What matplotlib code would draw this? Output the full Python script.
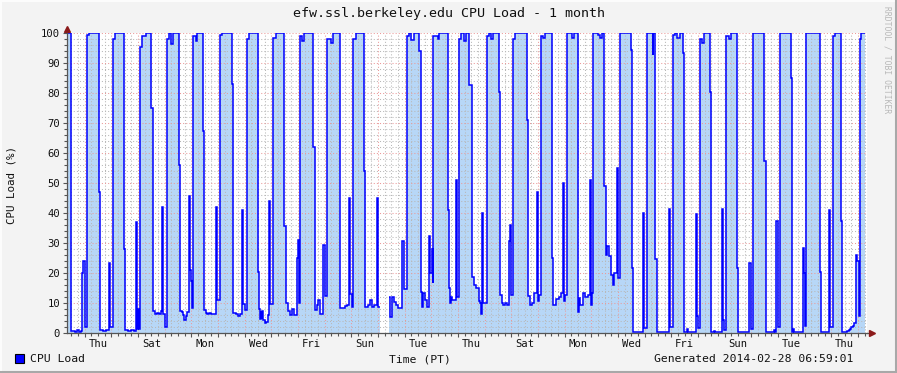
import datetime as dt
import numpy as np
import matplotlib
matplotlib.use("Agg")
import matplotlib.pyplot as plt
import matplotlib.dates as mdates
from matplotlib.lines import Line2D
from matplotlib.patches import Rectangle
from matplotlib.ticker import MultipleLocator, FuncFormatter, NullFormatter

# 30 day window shown by the graph
start = dt.datetime(2014, 1, 29, 8, 0)
end = start + dt.timedelta(days=30)

# step start (hours after start) and CPU load in %, one line per day cycle
hours = [
    0.0, 3.3, 3.9, 6.8, 9.0, 10.8, 12.6, 13.8, 14.7, 15.8,
    18.3, 19.5, 28.5, 29.4, 32.4, 35.1, 37.5, 38.4, 39.0,
    41.7, 42.9, 51.3, 51.9, 54.9, 57.6, 60.3, 62.1, 63.3, 64.2, 65.1,
    66.0, 67.2, 70.8, 75.9, 77.1, 79.2, 81.0, 82.8, 84.6, 85.8, 86.7, 87.8,
    90.0, 91.8, 93.9, 95.4, 100.8, 101.7, 103.1, 104.4, 105.6, 107.1, 108.3, 110.1, 110.7, 111.9, 112.5,
    113.7, 115.7, 117.0, 122.1, 123.3, 124.7, 126.0, 127.8, 129.6, 131.4, 134.4, 135.3,
    137.7, 139.5, 148.8, 149.7, 152.1, 153.9, 155.7, 157.8, 158.7, 160.2,
    161.8, 163.8, 172.2, 173.1, 173.7, 174.3, 174.9, 175.5, 176.4, 177.8, 179.1, 181.2, 182.1, 183.0,
    185.7, 188.1, 195.6, 197.4, 198.6, 200.7, 202.5, 204.3, 207.3, 208.2, 209.1,
    210.0, 211.8, 213.3, 221.7, 223.2, 225.0, 226.2, 227.7, 230.7, 232.5,
    234.0, 237.6, 239.4, 246.0, 250.2, 252.0, 254.1, 255.0, 256.5,
    257.7, 260.1, 267.3, 268.2, 270.9, 273.0, 274.5, 276.3, 278.7, 279.6, 281.3,
    290.0, 291.0, 292.8, 294.3, 296.1, 298.2, 301.8, 303.3,
    305.7, 307.8, 309.6, 312.3, 317.1, 318.6, 319.8, 320.7, 322.6, 324.3, 326.1, 327.0, 328.1, 329.0,
    329.7, 333.5, 334.8, 342.6, 343.5, 344.3, 345.6, 346.5, 350.4, 351.3,
    352.8, 354.6, 357.3, 358.7, 362.1, 364.5, 366.3, 368.1, 370.5, 371.7, 372.6, 373.5, 374.7,
    377.7, 379.4, 381.6, 383.4, 389.1, 390.0, 391.2, 392.7, 394.5, 396.0, 398.1, 399.0, 399.9,
    401.7, 403.2, 413.7, 414.6, 416.7, 418.1, 420.3, 422.7, 423.6, 424.8,
    426.3, 428.1, 430.2, 436.5, 437.7, 440.1, 442.8, 444.6, 446.1, 447.0, 448.2,
    449.7, 454.5, 456.6, 459.6, 460.8, 461.7, 464.1, 466.5, 468.9, 470.7, 471.6, 472.5,
    473.7, 477.9, 479.7, 481.5, 483.6, 485.1, 486.3, 487.8, 489.6, 491.1, 492.3, 494.7, 495.6,
    497.7, 507.6, 508.2, 509.1, 518.1, 519.0,
    522.3, 527.1, 527.8, 529.5, 530.7, 541.5, 542.4,
    545.4, 547.2, 549.0, 551.7, 554.4, 555.0, 558.0, 559.2, 566.1, 567.0, 567.9,
    570.0, 571.5, 573.3, 579.0, 579.9, 582.0, 583.2, 589.5, 590.4, 591.6,
    593.4, 596.1, 597.6, 603.0, 603.9, 613.5, 615.6,
    617.4, 627.6, 629.1, 636.0, 637.2, 638.4, 639.6,
    641.4, 651.6, 652.5, 653.4, 654.6, 662.1, 663.0, 664.2,
    665.4, 677.4, 678.6, 683.1, 686.1, 687.0,
    689.1, 691.2, 696.6, 697.5, 702.0, 703.8, 705.0, 705.9, 707.4, 708.6, 710.1, 711.0, 712.5,
    713.4, 714.9,
]
load = [
    100, 21.7, 0.8, 0.5, 1.0, 0.4, 0.8, 20, 24, 2,
    99.5, 100, 47, 1.0, 0.6, 0.9, 23.5, 17.5, 2,
    98, 100, 28, 1.0, 0.6, 1.1, 0.7, 37, 1.5, 8, 1.5,
    95.5, 99, 100, 75, 7.2, 6.3, 6.8, 6.3, 7.5, 42, 6.3, 2,
    98, 100, 96.5, 100, 56, 7.5, 7, 6, 4.5, 5.8, 7, 45.7, 21, 17.5, 8.5,
    99, 97.5, 100, 67.5, 7.7, 6.7, 6.3, 6.7, 6.3, 6.5, 42, 11,
    99.5, 100, 83, 6.7, 6.3, 5.8, 6.3, 41, 9.8, 7.8,
    98, 100, 20.5, 8, 4.7, 7.3, 5, 7.5, 4.5, 3.4, 3.8, 6, 44, 9.7,
    98.5, 100, 35.7, 10, 7.3, 6, 8, 6, 25, 31, 10,
    99, 97.3, 100, 62, 7.7, 9.4, 11, 6.5, 29.5, 12.5,
    98, 96.7, 100, 8.2, 8.9, 9.4, 45, 12.9, 8.6,
    98, 100, 54, 8.6, 9.5, 11, 8.6, 9.2, 45, 8.6, np.nan,
    11.9, 5.2, 11.9, 10.5, 9.4, 8.3, 30.8, 14.8,
    99, 100, 97.6, 100, 93.9, 13.8, 8.7, 13.2, 11, 8.7, 32.5, 20, 28, 16.6,
    99, 98, 100, 41, 14.9, 9.9, 12, 11, 51, 12,
    98, 100, 97.2, 100, 82.8, 18.8, 16.1, 15, 10.7, 9.9, 6.4, 40, 9.9,
    99, 100, 98, 100, 80.5, 12.8, 10, 9.4, 10, 9.4, 30.6, 36, 12.8,
    98, 100, 71, 12.2, 9.4, 10, 13.3, 47, 10.6, 12.8,
    99, 98.5, 100, 25, 9.4, 11.3, 12, 13.3, 50, 10.6, 12.8,
    100, 98.3, 100, 7.1, 11.7, 9.4, 13.3, 11.9, 12.8, 51, 9.4, 13.3,
    100, 99.3, 98.5, 100, 48.9, 26, 28.9, 25.6, 19.5, 16.1, 20, 55, 18.3,
    100, 94.4, 21.7, 0.3, 40, 1.6,
    100, 92.6, 100, 24.8, 0.3, 41.3, 2,
    99.5, 100, 98.5, 100, 93.3, 0.3, 1.5, 0.3, 39.7, 5.6, 1.6,
    98, 96.7, 100, 80.2, 0.3, 0.8, 0.3, 41.3, 4.5, 1.1,
    99, 98, 100, 21.7, 0.3, 23.4, 1.4,
    100, 57.2, 0.3, 1.0, 0.3, 37.5, 2,
    100, 85, 0.3, 1.3, 0.3, 28.3, 20, 2.3,
    100, 20.2, 0.3, 0.5, 41, 2,
    99, 100, 37.5, 0.3, 0.8, 1.1, 1.4, 2, 2.3, 3.4, 26, 23.9, 5.6,
    98, 100,
]
last_hour = 718.5

title = "efw.ssl.berkeley.edu CPU Load - 1 month"
generated = "Generated 2014-02-28 06:59:01"

W, H = 897, 373
plt.rcParams["font.family"] = "DejaVu Sans Mono"

t0 = mdates.date2num(start)
edges = t0 + np.array(hours + [last_hour]) / 24.0
vals = np.array(load, dtype=float)

fig = plt.figure(figsize=(W / 100, H / 100), dpi=100, facecolor="#f3f3f3")
ax = fig.add_axes([67 / W, 1 - 333 / H, 800 / W, 300 / H])
ax.set_facecolor("white")

ax.stairs(vals, edges, baseline=0, fill=True, color="#b7d7f7", lw=0, zorder=1)
ax.stairs(vals, edges, baseline=None, color="#0000ff", lw=1.1, zorder=3)

ax.set_xlim(t0, mdates.date2num(end))
ax.set_ylim(0, 100)

# grid: pink dotted majors, grey dotted minors, drawn over the area
ax.set_axisbelow(False)
dots = (0, (1, 2))
ax.xaxis.set_major_locator(mdates.DayLocator())
ax.xaxis.set_minor_locator(mdates.HourLocator(byhour=[6, 12, 18]))
ax.xaxis.set_major_formatter(NullFormatter())
label_ref = dt.date(2014, 1, 30)


def day_label(x, pos):
    d = mdates.num2date(x + 1e-6)
    if d.hour == 12 and (d.date() - label_ref).days % 2 == 0:
        return d.strftime("%a")
    return ""


ax.xaxis.set_minor_formatter(FuncFormatter(day_label))
ax.yaxis.set_major_locator(MultipleLocator(10))
ax.yaxis.set_minor_locator(MultipleLocator(2))
ax.grid(which="major", color="#eb9a9a", ls=dots, lw=0.75)
ax.grid(which="minor", color="#b8b8b8", ls=dots, lw=0.75)

ax.tick_params(which="both", direction="out", color="#555555", width=0.8,
               labelsize=7.6, labelcolor="#111111")
ax.tick_params(axis="x", which="major", length=3)
ax.tick_params(axis="x", which="minor", length=2, pad=2)
ax.tick_params(axis="y", which="major", length=3, pad=2)
ax.tick_params(axis="y", which="minor", length=2)

for s in ["top", "right"]:
    ax.spines[s].set_visible(False)
for s in ["left", "bottom"]:
    ax.spines[s].set_color("#555555")
    ax.spines[s].set_linewidth(0.9)
    ax.spines[s].set_zorder(4)

# axis arrows
ax.plot([0, 0], [1, 1.012], transform=ax.transAxes, color="#555555",
        lw=0.9, clip_on=False)
ax.plot([1, 1.004], [0, 0], transform=ax.transAxes, color="#555555",
        lw=0.9, clip_on=False)
ax.plot([0], [1.015], marker="^", ms=4.5, color="#8b1a1a",
        transform=ax.transAxes, clip_on=False)
ax.plot([1.006], [0], marker=">", ms=4.5, color="#8b1a1a",
        transform=ax.transAxes, clip_on=False)

fig.text(0.5, 1 - 13 / H, title, ha="center", va="center", fontsize=9.6,
         color="#111111")
fig.text(12 / W, 1 - 185 / H, "CPU Load (%)", rotation=90, ha="center",
         va="center", fontsize=7.8, color="#111111")
fig.text(420 / W, 1 - 359 / H, "Time (PT)", ha="center", va="center",
         fontsize=8.2, color="#111111")
fig.text(30 / W, 1 - 359 / H, "CPU Load", ha="left", va="center",
         fontsize=8.2, color="#111111")
fig.text(853 / W, 1 - 359 / H, generated, ha="right", va="center",
         fontsize=8.2, color="#111111")
fig.text(887 / W, 1 - 60 / H, "RRDTOOL / TOBI OETIKER", rotation=270,
         ha="center", va="center", fontsize=5.8, color="#b8b8b8")

fig.add_artist(Rectangle((15 / W, 1 - 363 / H), 9 / W, 9 / H,
                         transform=fig.transFigure, facecolor="#0000ff",
                         edgecolor="black", lw=0.8))

# 3d frame round the image
fig.add_artist(Line2D([0, 1], [1 - 1 / H, 1 - 1 / H], transform=fig.transFigure,
                      color="#fcfcfc", lw=1.5))
fig.add_artist(Line2D([1 / W, 1 / W], [0, 1], transform=fig.transFigure,
                      color="#fcfcfc", lw=1.5))
fig.add_artist(Line2D([0, 1], [1.5 / H, 1.5 / H], transform=fig.transFigure,
                      color="#a8a8a8", lw=2.2))
fig.add_artist(Line2D([1 - 1.5 / W, 1 - 1.5 / W], [0, 1],
                      transform=fig.transFigure, color="#a8a8a8", lw=2.2))

fig.savefig("out.png", dpi=100, facecolor=fig.get_facecolor())
